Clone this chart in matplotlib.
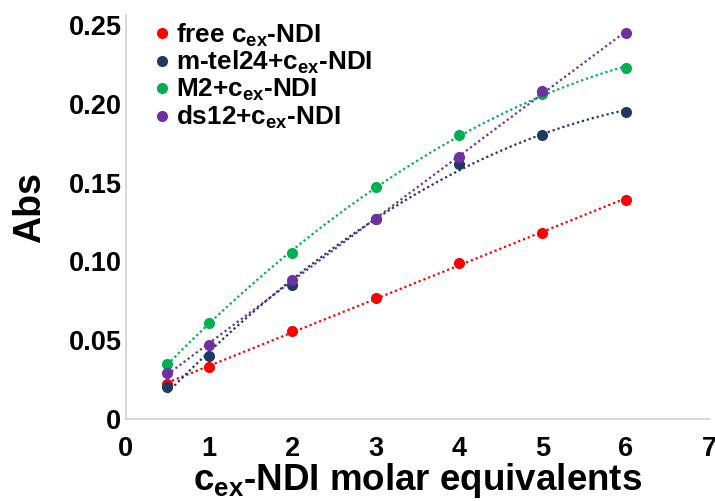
import numpy as np
import matplotlib.pyplot as plt

plt.rcParams['font.family'] = ['Liberation Sans', 'DejaVu Sans']
plt.rcParams['font.weight'] = 'bold'
plt.rcParams['mathtext.fontset'] = 'custom'
plt.rcParams['mathtext.rm'] = 'Liberation Sans:bold'
plt.rcParams['mathtext.bf'] = 'Liberation Sans:bold'
plt.rcParams['mathtext.default'] = 'bf'

# molar equivalents
x = [0.5, 1, 2, 3, 4, 5, 6]

# absorbance per sample
free_ndi = [0.022, 0.033, 0.056, 0.077, 0.099, 0.118, 0.139]
mtel24 = [0.020, 0.040, 0.085, 0.127, 0.162, 0.180, 0.195]
m2 = [0.035, 0.061, 0.105, 0.147, 0.180, 0.206, 0.223]
ds12 = [0.029, 0.047, 0.088, 0.127, 0.166, 0.208, 0.245]

labels = ["free c$_{ex}$-NDI", "m-tel24+c$_{ex}$-NDI",
          "M2+c$_{ex}$-NDI", "ds12+c$_{ex}$-NDI"]
colors = ["#FF0000", "#203864", "#00B050", "#7030A0"]
fit_order = [1, 2, 2, 2]

fig = plt.figure(figsize=(7.15, 5.01), dpi=100)
ax = fig.add_axes([0.1757, 0.1637, 0.8159, 0.8063])

xs = np.linspace(min(x), max(x), 200)
for ys, lab, col, order in zip([free_ndi, mtel24, m2, ds12], labels, colors, fit_order):
    # dotted trendline, like the spreadsheet
    coef = np.polyfit(x, ys, order)
    ax.plot(xs, np.polyval(coef, xs), color=col, lw=1.6, ls=(0, (1, 1.3)))
    ax.plot(x, ys, 'o', color=col, ms=8, mec='none', label=lab)

ax.set_xlim(0, 7)
ax.set_ylim(0, 0.2563)
ax.set_xticks(range(8))
ax.set_yticks([0, 0.05, 0.10, 0.15, 0.20, 0.25])
ax.set_yticklabels(["0", "0.05", "0.10", "0.15", "0.20", "0.25"])
ax.tick_params(length=0, labelsize=19.5)
ax.tick_params(axis='x', pad=12)
ax.tick_params(axis='y', pad=3)

for s in ["top", "right"]:
    ax.spines[s].set_visible(False)
for s in ["left", "bottom"]:
    ax.spines[s].set_color("#d0d0d0")
    ax.spines[s].set_linewidth(1.2)

ax.set_ylabel("Abs", fontsize=27, fontweight='bold')
ax.yaxis.set_label_coords(-0.133, 0.523)
ax.set_xlabel("c$_{ex}$-NDI molar equivalents", fontsize=26.5, fontweight='bold')
ax.xaxis.set_label_coords(0.5, -0.105)

leg = ax.legend(loc="upper left", bbox_to_anchor=(0.208, 0.957), bbox_transform=fig.transFigure,
                frameon=False, fontsize=18.8, handletextpad=0.05, labelspacing=0.02,
                handlelength=1.0, borderaxespad=0.0, borderpad=0.0)

fig.savefig("out.png", dpi=100)
